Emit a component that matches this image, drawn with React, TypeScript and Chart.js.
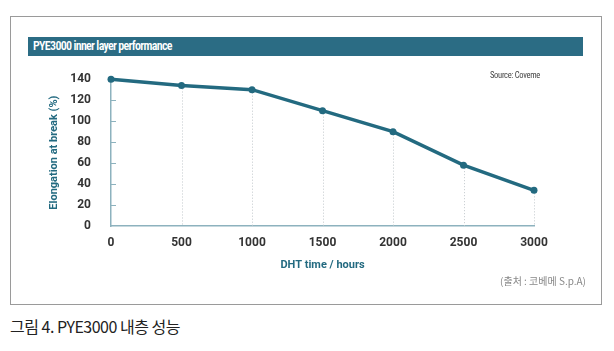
import React, { useEffect, useRef } from "react";
import { Chart, registerables } from "chart.js";

Chart.register(...registerables);

const hours = [0, 500, 1000, 1500, 2000, 2500, 3000];
const elongation = [140, 134, 130, 110, 90, 58, 34];
const xTicks = [0, 500, 1000, 1500, 2000, 2500, 3000];
const yTicks = [0, 20, 40, 60, 80, 100, 120, 140];

const TEAL = "#236a80";
const AXIS = "#8db2be";
const COND = "Roboto, 'Open Sans', sans-serif";

const extras = {
  id: "extras",
  beforeDatasetsDraw(chart: any) {
    const ctx = chart.ctx;
    const meta = chart.getDatasetMeta(0);
    const ys = chart.scales.y;
    const xs = chart.scales.x;
    ctx.save();
    ctx.strokeStyle = "#c2c8cc";
    ctx.lineWidth = 1;
    ctx.setLineDash([1, 2]);
    meta.data.forEach((pt: any, i: number) => {
      if (i === 0) return;
      ctx.beginPath();
      ctx.moveTo(Math.round(pt.x) + 0.5, pt.y);
      ctx.lineTo(Math.round(pt.x) + 0.5, ys.bottom);
      ctx.stroke();
    });
    ctx.setLineDash([]);
    ctx.strokeStyle = AXIS;
    yTicks.forEach((v) => {
      if (v === 0 || v === 140) return;
      const y = Math.round(ys.getPixelForValue(v)) + 0.5;
      ctx.beginPath();
      ctx.moveTo(xs.left, y);
      ctx.lineTo(xs.left + 5, y);
      ctx.stroke();
    });
    ctx.restore();
  },
};

const tickFont = { family: COND, size: 12, weight: "bold", style: "condensed" };
const titleFont = { family: COND, size: 11, weight: "bold", style: "condensed" };

const CANVAS_TOP = 52;
const CANVAS_H = 238;
const WANT_TOP = 79 - CANVAS_TOP;
const WANT_RIGHT = 504;

function LineChart() {
  const ref = useRef<HTMLCanvasElement>(null);
  useEffect(() => {
    const chart: any = new Chart(ref.current!, {
      type: "line",
      data: {
        datasets: [
          {
            data: hours.map((h, i) => ({ x: h, y: elongation[i] })),
            borderColor: TEAL,
            backgroundColor: TEAL,
            borderWidth: 3.5,
            pointRadius: 3.5,
            pointHoverRadius: 3.5,
            pointBackgroundColor: TEAL,
            pointBorderWidth: 0,
            tension: 0,
            clip: false as any,
          },
        ],
      },
      options: {
        animation: false,
        responsive: false,
        maintainAspectRatio: false,
        layout: { padding: { top: 0, right: 66, left: 0, bottom: 0 } },
        plugins: { legend: { display: false }, tooltip: { enabled: false } },
        scales: {
          x: {
            type: "linear",
            min: 0,
            max: 3000,
            afterBuildTicks: (s: any) => {
              s.ticks = xTicks.map((v) => ({ value: v }));
            },
            afterFit: (s: any) => {
              s.height = 64;
            },
            grid: { display: false, drawTicks: false },
            border: { display: true, color: AXIS, width: 1.5 },
            ticks: {
              padding: 10,
              color: "#333",
              font: tickFont,
              callback: (v: any) => String(v),
            },
            title: {
              display: true,
              text: "DHT time / hours",
              color: TEAL,
              font: titleFont,
              padding: { top: 4, bottom: 18 },
            },
          },
          y: {
            type: "linear",
            min: 0,
            max: 140,
            afterBuildTicks: (s: any) => {
              s.ticks = yTicks.map((v) => ({ value: v }));
            },
            afterFit: (s: any) => {
              s.width = 81;
            },
            grid: { display: false, drawTicks: false },
            border: { display: true, color: AXIS, width: 1.5 },
            ticks: {
              padding: 20,
              color: "#333",
              font: tickFont,
              callback: (v: any) => String(v),
            },
            title: {
              display: true,
              text: "Elongation at break (%)",
              color: TEAL,
              font: titleFont,
              padding: { top: 18, bottom: 0 },
            },
          },
        },
      },
      plugins: [extras],
    } as any);
    for (let i = 0; i < 3; i++) {
      const a = chart.chartArea;
      const dt = WANT_TOP - a.top;
      const dr = a.right - WANT_RIGHT;
      if (Math.abs(dt) < 0.3 && Math.abs(dr) < 0.3) break;
      const p = chart.options.layout.padding;
      p.top = Math.max(0, p.top + dt);
      p.right = Math.max(0, p.right + dr);
      chart.update();
    }
    return () => chart.destroy();
  }, []);
  return (
    <canvas
      ref={ref}
      width={570}
      height={CANVAS_H}
      style={{ position: "absolute", left: 30, top: CANVAS_TOP, width: 570, height: CANVAS_H }}
    />
  );
}

export default function App() {
  useEffect(() => {
    document.body.style.margin = "0";
  }, []);
  return (
    <div style={{ position: "relative", width: 614, height: 351, background: "#fff", overflow: "hidden" }}>
      <div
        style={{
          position: "absolute",
          left: 10,
          top: 16,
          width: 590,
          height: 287,
          border: "1px solid #9a9a9a",
        }}
      />
      <div
        style={{
          position: "absolute",
          left: 28,
          top: 37,
          width: 555,
          height: 19,
          background: "#2b6c84",
          color: "#fff",
          fontFamily: COND,
          fontStretch: "condensed",
          fontSize: 12,
          fontWeight: 600,
          letterSpacing: -0.7,
          lineHeight: "19px",
          paddingLeft: 5,
          boxSizing: "border-box",
        }}
      >
        PYE3000 inner layer performance
      </div>
      <LineChart />
      <div
        style={{
          position: "absolute",
          left: 490,
          top: 70,
          fontFamily: COND,
          fontStretch: "condensed",
          fontSize: 8.5,
          letterSpacing: -0.3,
          color: "#444",
        }}
      >
        Source: Coveme
      </div>
      <div
        style={{
          position: "absolute",
          right: 28,
          top: 273,
          fontFamily: "'Noto Sans CJK KR', sans-serif",
          fontSize: 10,
          color: "#888",
        }}
      >
        (출처 : 코베메 S.p.A)
      </div>
      <div
        style={{
          position: "absolute",
          left: 10,
          top: 314,
          fontFamily: "'Noto Sans CJK KR', sans-serif",
          fontSize: 16,
          color: "#222",
          letterSpacing: -0.5,
        }}
      >
        그림 4. PYE3000 내층 성능
      </div>
    </div>
  );
}
